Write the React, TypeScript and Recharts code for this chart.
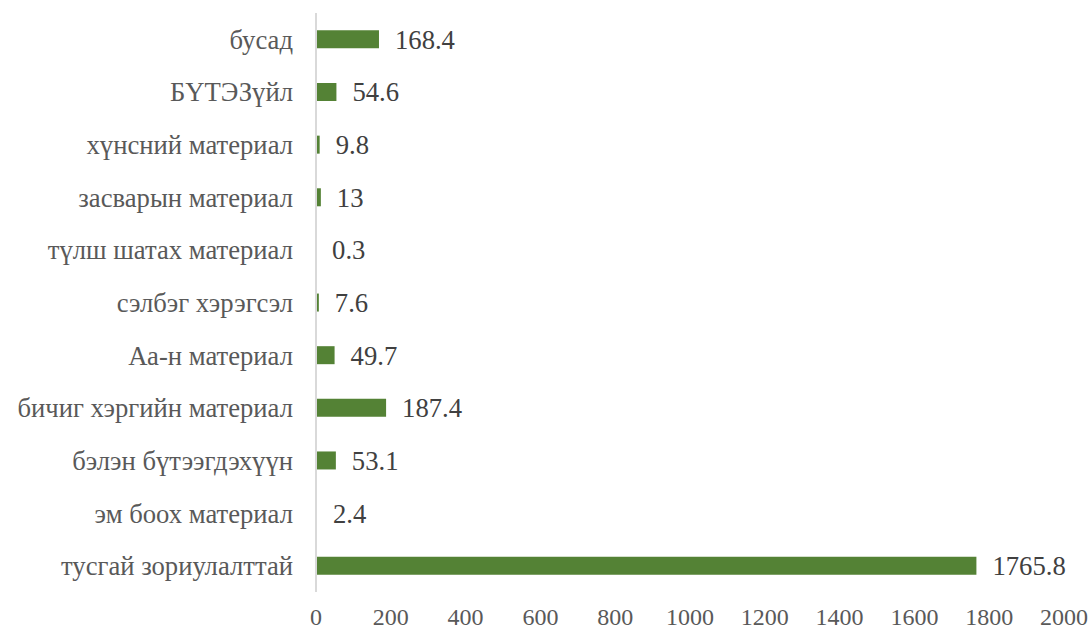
import React from "react";
import { BarChart, Bar, XAxis, YAxis, LabelList } from "recharts";

const categories = [
  "бусад",
  "БҮТЭЗүйл",
  "хүнсний материал",
  "засварын материал",
  "түлш шатах материал",
  "сэлбэг хэрэгсэл",
  "Аа-н материал",
  "бичиг хэргийн материал",
  "бэлэн бүтээгдэхүүн",
  "эм боох материал",
  "тусгай зориулалттай",
];
const values = [168.4, 54.6, 9.8, 13, 0.3, 7.6, 49.7, 187.4, 53.1, 2.4, 1765.8];
const xTicks = [0, 200, 400, 600, 800, 1000, 1200, 1400, 1600, 1800, 2000];

const data = categories.map((name, i) => ({ name, value: values[i] }));

const FONT = '"Liberation Serif", "Times New Roman", serif';

export default function App() {
  return (
    <div style={{ position: "absolute", left: 0, top: 0, background: "#fff", fontFamily: FONT }}>
      <BarChart
        width={1092}
        height={629}
        data={data}
        layout="vertical"
        margin={{ top: 13, right: 28, bottom: 0, left: 0 }}
        barCategoryGap="33%"
      >
        <XAxis
          type="number"
          domain={[0, 2000]}
          ticks={xTicks}
          axisLine={false}
          tickLine={false}
          tickSize={0}
          tickMargin={16}
          height={37}
          interval={0}
          tick={{ fill: "#595959", fontSize: 24, style: { fontFamily: FONT } }}
        />
        <YAxis
          type="category"
          dataKey="name"
          width={316}
          axisLine={{ stroke: "#d9d9d9", strokeWidth: 2 }}
          tickLine={false}
          tickSize={0}
          tickMargin={23}
          interval={0}
          tick={{ fill: "#595959", fontSize: 26.67, style: { fontFamily: FONT } }}
        />
        <Bar dataKey="value" fill="#548235" isAnimationActive={false}>
          <LabelList
            dataKey="value"
            position="right"
            offset={16}
            style={{ fill: "#404040", fontSize: 26.67, fontFamily: FONT }}
          />
        </Bar>
      </BarChart>
    </div>
  );
}
